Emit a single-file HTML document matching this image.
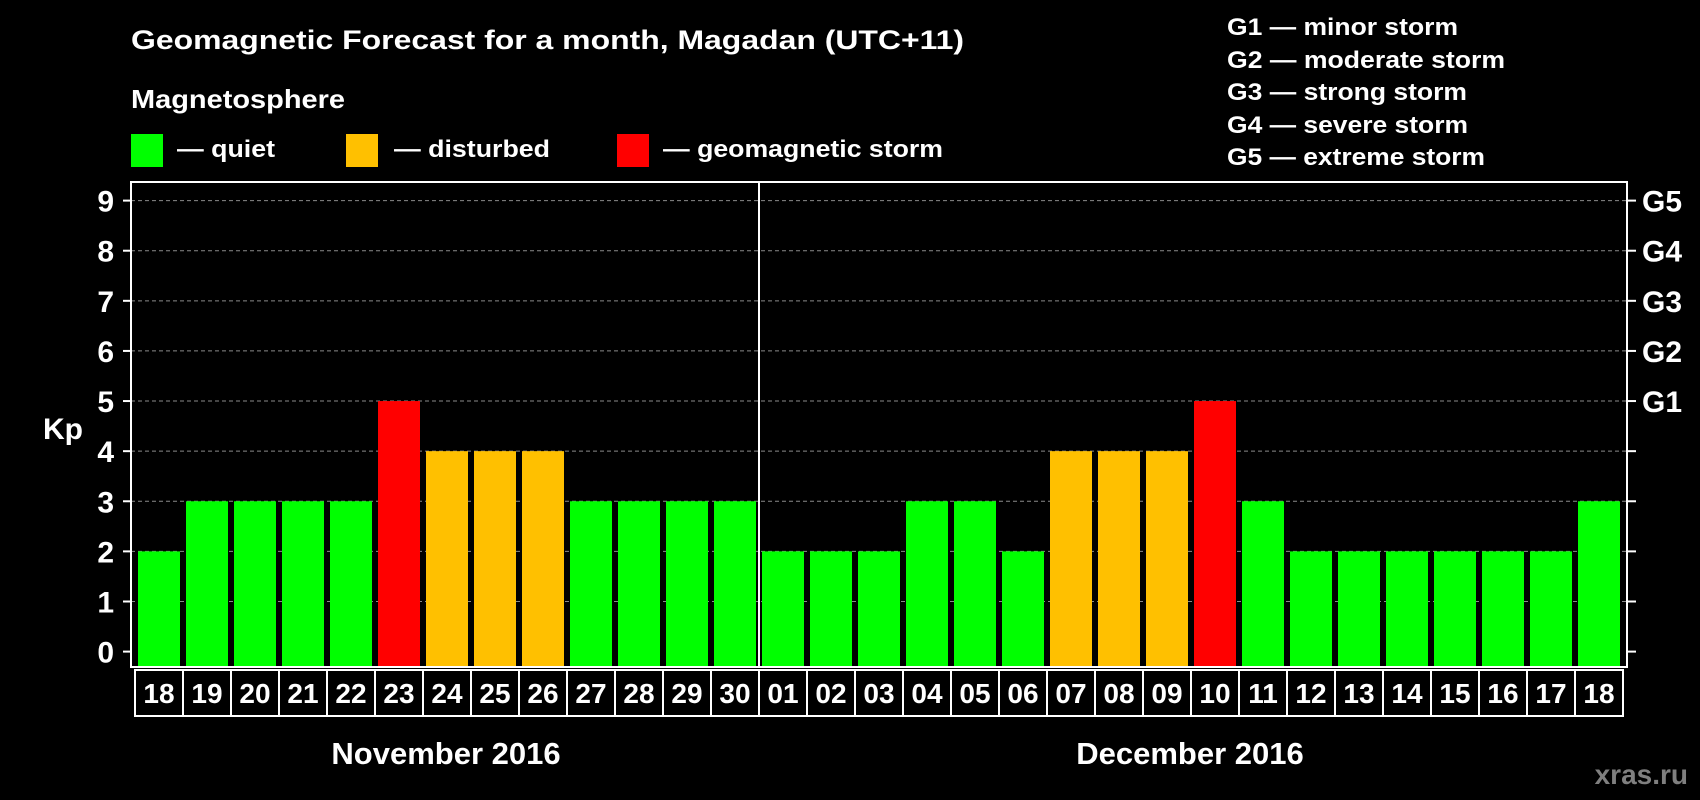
<!DOCTYPE html>
<html><head><meta charset="utf-8"><style>
html,body{margin:0;padding:0;background:#000;}
svg{display:block;font-family:"Liberation Sans",sans-serif;font-weight:bold;}
</style></head><body>
<svg id="chart" width="1700" height="800" viewBox="0 0 1700 800">
<rect x="0" y="0" width="1700" height="800" fill="#000"/>
<text x="131" y="49" font-size="27" fill="#fff" textLength="833" lengthAdjust="spacingAndGlyphs">Geomagnetic Forecast for a month, Magadan (UTC+11)</text>
<text x="131" y="108" font-size="26" fill="#fff" textLength="214" lengthAdjust="spacingAndGlyphs">Magnetosphere</text>
<g>
<rect x="131" y="134" width="32" height="33" fill="#00ff00"/>
<text x="177" y="157" font-size="24" fill="#fff" textLength="98" lengthAdjust="spacingAndGlyphs">— quiet</text></g>
<g>
<rect x="346" y="134" width="32" height="33" fill="#ffc000"/>
<text x="394" y="157" font-size="24" fill="#fff" textLength="156" lengthAdjust="spacingAndGlyphs">— disturbed</text></g>
<g>
<rect x="617" y="134" width="32" height="33" fill="#ff0000"/>
<text x="663" y="157" font-size="24" fill="#fff" textLength="280" lengthAdjust="spacingAndGlyphs">— geomagnetic storm</text></g>
<g font-size="24" fill="#fff">
<text x="1227" y="35" textLength="231" lengthAdjust="spacingAndGlyphs">G1 — minor storm</text>
<text x="1227" y="68" textLength="278" lengthAdjust="spacingAndGlyphs">G2 — moderate storm</text>
<text x="1227" y="100" textLength="240" lengthAdjust="spacingAndGlyphs">G3 — strong storm</text>
<text x="1227" y="133" textLength="241" lengthAdjust="spacingAndGlyphs">G4 — severe storm</text>
<text x="1227" y="165" textLength="258" lengthAdjust="spacingAndGlyphs">G5 — extreme storm</text>
</g>
<g id="plot"></g>
<text x="63" y="439" font-size="30" fill="#fff" text-anchor="middle">Kp</text>
<text x="446" y="764" font-size="31" fill="#fff" text-anchor="middle">November 2016</text>
<text x="1190" y="764" font-size="31" fill="#fff" text-anchor="middle">December 2016</text>
<text x="1688" y="784" font-size="28" fill="#7f7f7f" text-anchor="end">xras.ru</text>
</svg>
<script>
const days = ["18","19","20","21","22","23","24","25","26","27","28","29","30","01","02","03","04","05","06","07","08","09","10","11","12","13","14","15","16","17","18"];
const kpValues = [2,3,3,3,3,5,4,4,4,3,3,3,3,2,2,2,3,3,2,4,4,4,5,3,2,2,2,2,2,2,3];
const yTicks = [0,1,2,3,4,5,6,7,8,9];
const gLabels = ["G1","G2","G3","G4","G5"];
const gLevels = [5,6,7,8,9];

const NS="http://www.w3.org/2000/svg";
const g=document.getElementById('plot');
const L=131,R=1627,T=182,B=667;
const y0=651.6, unit=(651.6-200.6)/9;
const firstBar=138, pitch=48, bw=42;
function yS(v){return y0-v*unit;}
function xS(i){return firstBar+i*pitch;}
function colorFor(v){return v>=5?"#ff0000":(v>=4?"#ffc000":"#00ff00");}
function mk(tag,attrs){const e=document.createElementNS(NS,tag);for(const k in attrs)e.setAttribute(k,attrs[k]);g.appendChild(e);return e;}

yTicks.forEach(t=>{
  const y=yS(t);
  if(t>0){const gl=mk('line',{x1:L,x2:R,y1:y,y2:y,stroke:'#8a8a8a','stroke-width':1,'stroke-dasharray':'4,3'});
  
  }
  const tl=mk('line',{x1:L-8,x2:L,y1:y,y2:y,stroke:'#fff','stroke-width':2});
  
  
  const tr=mk('line',{x1:R,x2:R+9,y1:y,y2:y,stroke:'#fff','stroke-width':2});
  
  
  const tx=mk('text',{x:114,y:y+11,'font-size':30,fill:'#fff','text-anchor':'end'});
  tx.textContent=t;
  
  
});
gLevels.forEach((lv,i)=>{
  const tx=mk('text',{x:1642,y:yS(lv)+11,'font-size':30,fill:'#fff'});
  tx.textContent=gLabels[i];
  
  
});
kpValues.forEach((v,i)=>{
  const b=mk('rect',{x:xS(i),y:yS(v),width:bw,height:B-1-yS(v),fill:colorFor(v)});
  
  
});
const frame=mk('rect',{x:L,y:T,width:R-L,height:B-T,fill:'none',stroke:'#fff','stroke-width':2});


const div=mk('line',{x1:xS(13)-3,x2:xS(13)-3,y1:T,y2:B,stroke:'#fff','stroke-width':2});


days.forEach((d,i)=>{
  const bx=mk('rect',{x:xS(i)-3,y:670,width:pitch,height:46,fill:'none',stroke:'#fff','stroke-width':2});
  
  
  const tx=mk('text',{x:xS(i)+bw/2,y:703,'font-size':28,fill:'#fff','text-anchor':'middle'});
  tx.textContent=d;
  
  
});
</script>
</body></html>
